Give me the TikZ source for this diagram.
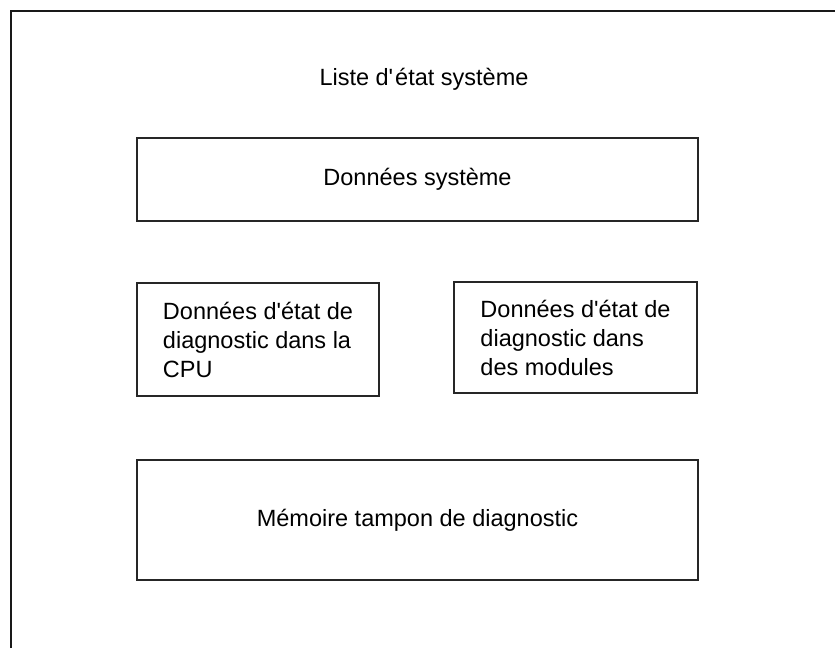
\documentclass[tikz,border=0pt]{standalone}
\usepackage{fontspec}
\setmainfont{Liberation Sans}
\begin{document}
\begin{tikzpicture}[x=1pt,y=-1pt,
  box/.style={draw=black!85,line width=1.4pt,rectangle,inner sep=0pt,font=\fontsize{23.5}{29}\selectfont,align=left},
  lbl/.style={font=\fontsize{23.5}{29}\selectfont}]
\useasboundingbox (0,0) rectangle (835,648);
\fill[white] (0,0) rectangle (835,648);
\draw[line width=2.2pt,black!90] (11,648) -- (11,11) -- (835,11);
\node[lbl] (title) at (424,79) {Liste d\textquotesingle\kern2pt état système};
\node[box,minimum width=561pt,minimum height=83pt] (sys) at (417.5,179.5) {Données système};
\node[box,minimum width=242pt,minimum height=113pt] (cpu) at (258,339.5) {Données d\textquotesingle état de\\diagnostic dans la\\CPU};
\node[box,minimum width=243pt,minimum height=111pt] (mod) at (575.5,337.5) {Données d\textquotesingle état de\\diagnostic dans\\des modules};
\node[box,minimum width=561pt,minimum height=120pt] (buf) at (417.5,520) {Mémoire tampon de diagnostic};
\end{tikzpicture}
\end{document}
